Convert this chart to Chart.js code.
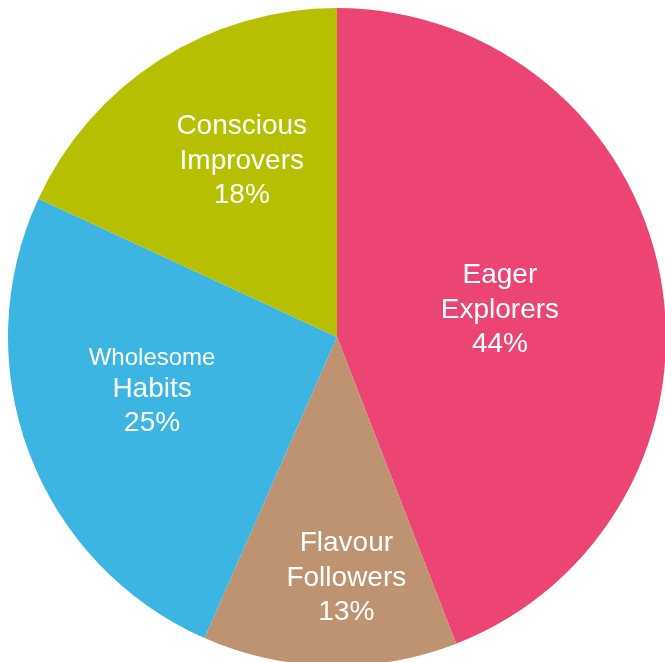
<!DOCTYPE html>
<html>
<head>
<meta charset="utf-8">
<script src="https://cdn.jsdelivr.net/npm/chart.js@4"></script>
<style>
  html, body { margin: 0; padding: 0; background: #fff; overflow: hidden; }
  #wrap { position: absolute; left: 0; top: 0; width: 666px; height: 666px; }
</style>
</head>
<body>
<div id="wrap"><canvas id="pie"></canvas></div>
<script>
// segments, clockwise from 12 o'clock
const segments = ['Eager Explorers', 'Flavour Followers', 'Wholesome Habits', 'Conscious Improvers'];
const shares = [44.1, 12.5, 25.3, 18.1];
const shareLabels = ['44%', '13%', '25%', '18%'];
const labelLines = [
  ['Eager', 'Explorers'],
  ['Flavour', 'Followers'],
  ['Wholesome', 'Habits'],
  ['Conscious', 'Improvers']
];
const colors = ['#ED4573', '#BD9371', '#3CB5E3', '#B6BF00'];

// where the label block sits inside each slice: fraction of radius, angle nudge in degrees
const labelPlace = [
  [0.503, 0.5],
  [0.727, -3.5],
  [0.583, 5.3],
  [0.613, 4.4]
];

const sliceLabels = {
  id: 'sliceLabels',
  afterDatasetsDraw(chart) {
    const ctx = chart.ctx;
    const arcs = chart.getDatasetMeta(0).data;
    ctx.save();
    ctx.fillStyle = '#fff';
    ctx.textAlign = 'center';
    ctx.textBaseline = 'middle';
    arcs.forEach((arc, i) => {
      const p = arc.getProps(['x', 'y', 'startAngle', 'endAngle', 'outerRadius'], true);
      const a = (p.startAngle + p.endAngle) / 2 + labelPlace[i][1] * Math.PI / 180;
      const r = p.outerRadius * labelPlace[i][0];
      const cx = p.x + Math.cos(a) * r;
      const cy = p.y + Math.sin(a) * r;
      const lines = [labelLines[i][0], labelLines[i][1], shareLabels[i]];
      let offs = [-33, 2, 36];
      let sizes = [28, 28, 28];
      if (i === 2) { offs = [-30, 1, 35]; sizes = [24, 28, 28]; }
      lines.forEach((t, k) => {
        ctx.font = sizes[k] + 'px "Liberation Sans", Arial, sans-serif';
        ctx.fillText(t, cx, cy + offs[k]);
      });
    });
    ctx.restore();
  }
};

new Chart(document.getElementById('pie'), {
  type: 'pie',
  data: {
    labels: segments,
    datasets: [{
      data: shares,
      backgroundColor: colors,
      borderWidth: 0
    }]
  },
  options: {
    responsive: true,
    maintainAspectRatio: false,
    animation: false,
    layout: { padding: { left: 8, top: 8 } },
    plugins: {
      legend: { display: false },
      tooltip: { enabled: false }
    }
  },
  plugins: [sliceLabels]
});
</script>
</body>
</html>
